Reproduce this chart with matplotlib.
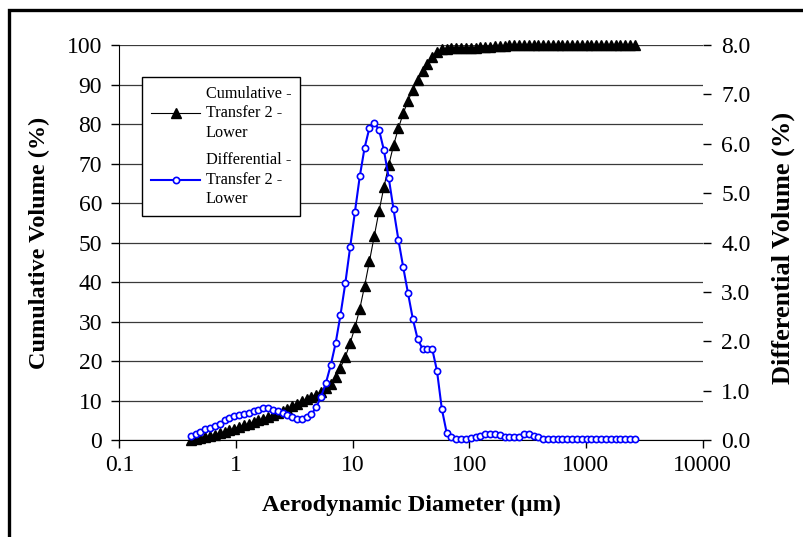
import matplotlib
matplotlib.use('Agg')
import matplotlib.pyplot as plt
from matplotlib.patches import Rectangle
from matplotlib.ticker import FixedLocator, FixedFormatter, NullLocator

plt.rcParams['font.family'] = ['Liberation Serif', 'DejaVu Serif']

# particle size bins (um)
diameter = [0.409, 0.450, 0.495, 0.545, 0.599, 0.659, 0.725, 0.797, 0.877, 0.965,
            1.061, 1.167, 1.284, 1.412, 1.553, 1.709, 1.880, 2.068, 2.275, 2.502,
            2.752, 3.027, 3.330, 3.663, 4.029, 4.432, 4.875, 5.363, 5.899, 6.489,
            7.138, 7.852, 8.637, 9.501, 10.45, 11.50, 12.65, 13.91, 15.30, 16.83,
            18.52, 20.37, 22.40, 24.64, 27.11, 29.82, 32.80, 36.08, 39.69, 43.66,
            48.02, 52.83, 58.11, 63.92, 70.31, 77.34, 85.08, 93.58, 102.9, 113.2,
            124.6, 137.0, 150.7, 165.8, 182.4, 200.6, 220.7, 242.7, 267.0, 293.7,
            323.1, 355.4, 390.9, 430.0, 473.0, 520.3, 572.4, 629.6, 692.6, 761.8,
            838.0, 921.8, 1014, 1115, 1227, 1350, 1485, 1633, 1796, 1976,
            2174, 2391, 2630]

cumulative = [0.0, 0.2, 0.45, 0.7, 1.0, 1.3, 1.7, 2.1, 2.5, 2.9,
              3.3, 3.7, 4.1, 4.5, 5.0, 5.4, 5.9, 6.3, 6.8, 7.3,
              7.9, 8.5, 9.2, 9.8, 10.3, 10.9, 11.5, 12.2, 13.2, 14.3,
              16.0, 18.3, 21.0, 24.5, 28.5, 33.2, 39.0, 45.2, 51.6, 58.0,
              64.0, 69.6, 74.6, 78.9, 82.7, 85.9, 88.7, 91.2, 93.4, 95.3,
              97.0, 98.3, 98.9, 99.1, 99.2, 99.2, 99.2, 99.2, 99.3, 99.3,
              99.4, 99.5, 99.6, 99.7, 99.8, 99.8, 99.9, 99.9, 99.9, 100.0,
              100.0, 100.0, 100.0, 100.0, 100.0, 100.0, 100.0, 100.0, 100.0, 100.0,
              100.0, 100.0, 100.0, 100.0, 100.0, 100.0, 100.0, 100.0, 100.0, 100.0,
              100.0, 100.0, 100.0]

differential = [0.08, 0.12, 0.17, 0.22, 0.25, 0.28, 0.32, 0.40, 0.44, 0.49,
                0.51, 0.53, 0.55, 0.59, 0.61, 0.64, 0.64, 0.61, 0.59, 0.55,
                0.51, 0.47, 0.43, 0.43, 0.47, 0.52, 0.67, 0.88, 1.16, 1.52,
                1.96, 2.53, 3.17, 3.90, 4.62, 5.34, 5.92, 6.32, 6.43, 6.28,
                5.87, 5.31, 4.67, 4.06, 3.50, 2.97, 2.45, 2.04, 1.85, 1.85,
                1.85, 1.40, 0.63, 0.15, 0.07, 0.03, 0.03, 0.03, 0.05, 0.07,
                0.08, 0.12, 0.12, 0.12, 0.10, 0.07, 0.07, 0.07, 0.07, 0.12,
                0.12, 0.08, 0.07, 0.03, 0.03, 0.02, 0.02, 0.02, 0.02, 0.02,
                0.02, 0.02, 0.02, 0.02, 0.02, 0.02, 0.02, 0.02, 0.02, 0.02,
                0.02, 0.02, 0.02]

x_ticks = [0.1, 1, 10, 100, 1000, 10000]
x_labels = ['0.1', '1', '10', '100', '1000', '10000']
left_ticks = list(range(0, 101, 10))
right_ticks = [0, 1, 2, 3, 4, 5, 6, 7, 8]
right_labels = ['0.0', '1.0', '2.0', '3.0', '4.0', '5.0', '6.0', '7.0', '8.0']

fig = plt.figure(figsize=(8.04, 5.37), dpi=100)
ax = fig.add_axes([0.1486, 0.1806, 0.7252, 0.7356])
ax2 = ax.twinx()

l1, = ax.plot(diameter, cumulative, color='black', lw=0.8, marker='^', ms=6.5,
              clip_on=False, label='Cumulative -\nTransfer 2 -\nLower')
l2, = ax2.plot(diameter, differential, color='#0000ff', lw=1.5, marker='o', ms=4.5,
               mfc='white', mec='#0000ff', mew=1.2, clip_on=False,
               label='Differential -\nTransfer 2 -\nLower')

ax.set_xscale('log')
ax.set_xlim(0.1, 10000)
ax.set_ylim(0, 100)
ax2.set_ylim(0, 8)

ax.xaxis.set_major_locator(FixedLocator(x_ticks))
ax.xaxis.set_major_formatter(FixedFormatter(x_labels))
ax.xaxis.set_minor_locator(NullLocator())
ax.set_yticks(left_ticks)
ax2.set_yticks(right_ticks)
ax2.set_yticklabels(right_labels)

ax.yaxis.grid(True, color='#3a3a3a', lw=0.9)
ax.set_axisbelow(True)

for a in (ax, ax2):
    a.spines['top'].set_visible(False)
ax.spines['right'].set_visible(False)
ax2.spines['left'].set_visible(False)
ax2.spines['bottom'].set_visible(False)
ax2.spines['right'].set_visible(False)

ax.tick_params(axis='both', direction='out', length=5.5, width=1, labelsize=17)
ax.tick_params(axis='y', pad=7)
ax.tick_params(axis='x', pad=5)
ax2.tick_params(axis='y', direction='out', length=5.5, width=1, labelsize=17, pad=8)

ax.set_xlabel('Aerodynamic Diameter (\u00b5m)', fontsize=17.5, fontweight='bold')
ax.set_ylabel('Cumulative Volume (%)', fontsize=17.5, fontweight='bold')
ax2.set_ylabel('Differential Volume (%)', fontsize=19, fontweight='bold')
ax.xaxis.set_label_coords(0.5, -0.1646)
ax.xaxis.label.set_verticalalignment('center')
ax.yaxis.set_label_coords(-0.1364, 0.5)
ax.yaxis.label.set_verticalalignment('center')
ax2.yaxis.set_label_coords(1.138, 0.485)
ax2.yaxis.label.set_verticalalignment('center')

leg = ax2.legend(handles=[l1, l2], loc='upper left', bbox_to_anchor=(0.039, 0.92),
                 borderaxespad=0, fontsize=11.7, frameon=True, fancybox=False,
                 framealpha=1, edgecolor='black', handlelength=3.0,
                 handletextpad=0.35, labelspacing=0.7, borderpad=0.55)
leg.get_frame().set_linewidth(1.0)
for t in leg.get_texts():
    t.set_linespacing(1.3)

# heavy frame on the top and left edges
fig.add_artist(Rectangle((9.5 / 804, -0.1), 1.2, 1 - 9.5 / 537 + 0.1,
                         transform=fig.transFigure, fill=False, lw=2.4,
                         ec='black'))

fig.savefig('out.png', dpi=100)
